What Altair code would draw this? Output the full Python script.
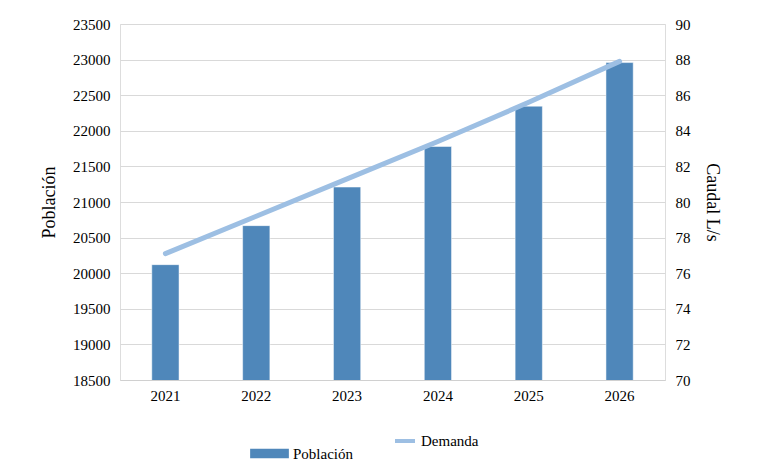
import altair as alt
import pandas as pd

years = ["2021", "2022", "2023", "2024", "2025", "2026"]
poblacion = [20120, 20668, 21210, 21780, 22346, 22958]
demanda = [77.1, 79.2, 81.3, 83.4, 85.6, 87.9]

df = pd.DataFrame({"year": years, "pob": poblacion, "dem": demanda,
                   "s1": ["Población"] * 6, "s2": ["Demanda"] * 6})

F = "Liberation Serif"
x = alt.X("year:N", title=None, scale=alt.Scale(paddingInner=0.7, paddingOuter=0.35),
          axis=alt.Axis(labelAngle=0, labelFont=F, labelFontSize=15, labelColor="#000",
                        domainColor="#d0d0d0", ticks=False, labelPadding=8))

bars = alt.Chart(df).mark_bar(clip=True, stroke="#ffffff", strokeWidth=0.5).encode(
    x=x,
    y=alt.Y("pob:Q", title="Población",
            scale=alt.Scale(domain=[18500, 23500], zero=False, nice=False),
            axis=alt.Axis(values=list(range(18500, 23501, 500)), domain=False, ticks=False,
                          labelFont=F, labelFontSize=15, labelColor="#000", format="d",
                          titleFont=F, titleFontSize=18, titleFontWeight="normal", titleColor="#000",
                          gridColor="#d9d9d9", labelPadding=10, titlePadding=14)),
    fill=alt.Fill("s1:N", scale=alt.Scale(range=["#4f87ba"]),
                  legend=alt.Legend(title=None, orient="none", legendX=130, legendY=410,
                                    symbolType="M-1,-0.25H1V0.25H-1Z", symbolSize=1500,
                                    symbolStrokeWidth=0, symbolOpacity=1, symbolFillColor="#4f87ba",
                                    labelFont=F, labelFontSize=15, labelColor="#000")),
)

line = alt.Chart(df).mark_line(strokeWidth=5, strokeCap="round").encode(
    x=x,
    y=alt.Y("dem:Q", title="Caudal L/s",
            scale=alt.Scale(domain=[70, 90], nice=False, zero=False),
            axis=alt.Axis(orient="right", values=list(range(70, 91, 2)), domain=False, ticks=False,
                          grid=False, labelFont=F, labelFontSize=15, labelColor="#000",
                          titleFont=F, titleFontSize=18, titleFontWeight="normal", titleColor="#000",
                          labelPadding=10, titlePadding=12)),
    stroke=alt.Stroke("s2:N", scale=alt.Scale(range=["#9dbfe3"]),
                      legend=alt.Legend(title=None, orient="none", legendX=273, legendY=405,
                                        symbolType="stroke", symbolStrokeWidth=4, symbolSize=400,
                                        labelFont=F, labelFontSize=15, labelColor="#000")),
)

chart = alt.layer(bars, line).resolve_scale(y="independent").properties(
    width=545, height=356,
    autosize=alt.AutoSizeParams(type="none"),
    padding={"left": 112, "top": 16, "right": 86, "bottom": 91},
).configure_view(stroke=None).configure(background="white", font=F)

chart.save("out.html", embed_options={"renderer": "svg", "actions": False})
